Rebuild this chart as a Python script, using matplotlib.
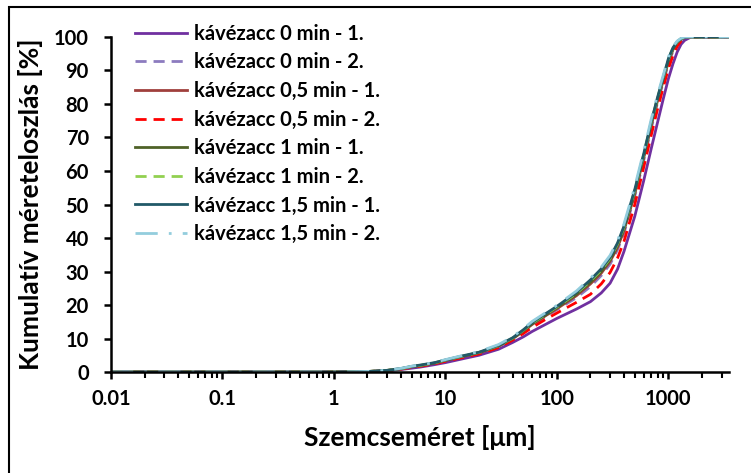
import matplotlib.pyplot as plt
from matplotlib.patches import Rectangle
from matplotlib.ticker import LogLocator, FixedLocator, NullFormatter

plt.rcParams['font.family'] = ['Lato', 'DejaVu Sans']
plt.rcParams['font.weight'] = 'bold'

# particle size grid [um]
size = [0.01, 0.1, 1, 1.5, 2, 3, 4, 5, 6, 8, 10, 15, 20, 30, 40, 50, 60, 80, 100, 150,
        200, 250, 300, 350, 400, 500, 600, 700, 800, 900, 1000, 1100, 1200, 1300, 1400,
        1600, 2000, 3500]

# cumulative distribution [%]
k0_1 = [0, 0, 0, 0.03, 0.1, 0.35, 0.75, 1.15, 1.5, 2.2, 2.8, 4.1, 5.0, 6.8, 8.8, 10.5, 12.1, 14.3, 16.0, 18.8,
        21.0, 23.6, 26.5, 30.7, 36.0, 46.5, 57.0, 66.5, 74.5, 81.5, 87.5, 92.0, 95.5, 97.8, 99.0,
        100, 100, 100]
k0_2 = [0, 0, 0, 0.04, 0.13, 0.45, 0.92, 1.5, 1.85, 2.6, 3.35, 4.7, 5.6, 7.6, 9.8, 12.0, 14.0, 16.6, 18.6, 22.2,
        25.5, 28.8, 32.2, 36.5, 41.5, 52.5, 63.0, 72.5, 80.5, 86.5, 92.0, 95.8, 98.0, 99.2, 99.8,
        100, 100, 100]
k05_1 = [0, 0, 0, 0.04, 0.14, 0.46, 0.95, 1.55, 1.9, 2.65, 3.4, 4.8, 5.7, 7.7, 9.9, 12.2, 14.2, 16.9, 18.9, 22.8,
         26.3, 29.5, 33.0, 37.2, 42.2, 53.2, 63.8, 73.3, 81.0, 87.0, 92.6, 96.2, 98.2, 99.3, 99.8,
         100, 100, 100]
k05_2 = [0, 0, 0, 0.04, 0.12, 0.42, 0.88, 1.4, 1.75, 2.45, 3.2, 4.5, 5.4, 7.3, 9.5, 11.5, 13.3, 15.8, 17.6, 20.8,
         23.2, 26.3, 29.7, 34.0, 39.0, 50.0, 61.0, 70.5, 78.5, 85.0, 90.5, 94.5, 97.2, 98.8, 99.6,
         100, 100, 100]
k1_1 = [0, 0, 0, 0.05, 0.14, 0.48, 0.98, 1.6, 1.95, 2.7, 3.5, 4.85, 5.8, 7.8, 10.0, 12.3, 14.4, 17.1, 19.2, 23.2,
        26.8, 30.0, 33.5, 37.8, 42.8, 53.8, 64.4, 74.0, 81.5, 87.5, 93.0, 96.5, 98.4, 99.4, 99.9,
        100, 100, 100]
k1_2 = [0, 0, 0, 0.05, 0.15, 0.49, 1.0, 1.65, 2.0, 2.75, 3.55, 4.9, 5.85, 7.9, 10.1, 12.5, 14.6, 17.3, 19.4, 23.5,
        27.2, 30.4, 33.9, 38.2, 43.2, 54.2, 64.8, 74.3, 81.8, 87.8, 93.3, 96.7, 98.5, 99.5, 99.9,
        100, 100, 100]
k15_1 = [0, 0, 0, 0.05, 0.15, 0.5, 1.05, 1.7, 2.1, 2.8, 3.6, 5.0, 5.9, 8.0, 10.2, 12.6, 14.8, 17.5, 19.6, 23.8,
         27.5, 30.8, 34.2, 38.5, 43.5, 54.5, 65.0, 74.5, 82.0, 88.0, 93.5, 96.8, 98.6, 99.5, 99.9,
         100, 100, 100]
k15_2 = [0, 0, 0, 0.06, 0.17, 0.55, 1.1, 1.75, 2.15, 2.85, 3.7, 5.1, 6.1, 8.2, 10.5, 12.9, 15.1, 17.8, 19.9, 24.2,
         28.0, 31.3, 34.8, 39.2, 44.2, 55.3, 65.8, 75.3, 82.7, 88.6, 94.0, 97.1, 98.8, 99.6, 100,
         100, 100, 100]

labels = ['kávézacc 0 min - 1.', 'kávézacc 0 min - 2.',
          'kávézacc 0,5 min - 1.', 'kávézacc 0,5 min - 2.',
          'kávézacc 1 min - 1.', 'kávézacc 1 min - 2.',
          'kávézacc 1,5 min - 1.', 'kávézacc 1,5 min - 2.']
series = [k0_1, k0_2, k05_1, k05_2, k1_1, k1_2, k15_1, k15_2]
colors = ['#7030A0', '#8C7BBF', '#A0403C', '#FF0000',
          '#4F6228', '#92D050', '#215968', '#93CDDD']
styles = ['-', (0, (4, 2.5)), '-', (0, (4, 2.5)),
          '-', (0, (4, 2.5)), '-', (0, (8, 4, 1, 4))]

fig = plt.figure(figsize=(7.51, 4.73), dpi=100)
ax = fig.add_axes([0.1478, 0.2135, 0.8229, 0.7083])

for vals, lab, col, ls in zip(series, labels, colors, styles):
    ax.plot(size, vals, color=col, linestyle=ls, linewidth=2.0, label=lab)

ax.set_xscale('log')
ax.set_xlim(0.01, 3500)
ax.set_ylim(0, 100)
ax.xaxis.set_major_locator(FixedLocator([0.01, 0.1, 1, 10, 100, 1000]))
ax.xaxis.set_minor_locator(LogLocator(base=10, subs=range(2, 10)))
ax.xaxis.set_minor_formatter(NullFormatter())
ax.set_xticklabels(['0.01', '0.1', '1', '10', '100', '1000'])
ax.set_yticks(range(0, 101, 10))

for side in ['top', 'right']:
    ax.spines[side].set_visible(False)
for side in ['left', 'bottom']:
    ax.spines[side].set_linewidth(1.8)
ax.tick_params(axis='both', which='major', length=5, width=1.8, labelsize=14.5)
ax.tick_params(axis='x', which='major', pad=7)
ax.tick_params(axis='y', which='major', pad=11)
ax.tick_params(axis='x', which='minor', length=4, width=1.5)

ax.set_xlabel('Szemcseméret [μm]', fontsize=19, fontweight='bold', va='center')
ax.set_ylabel('Kumulatív méreteloszlás [%]', fontsize=19, fontweight='bold', va='center')
ax.xaxis.set_label_coords(0.5, -0.194)
ax.yaxis.set_label_coords(-0.131, 0.5)

ax.legend(loc='upper left', bbox_to_anchor=(0.039, 1.04), frameon=False,
          borderpad=0, borderaxespad=0, fontsize=14.5, handlelength=2.6,
          handletextpad=0.3, labelspacing=0.43)

# outer frame of the chart area
fig.patches.append(Rectangle((9 / 751, -0.1), 1.2, 1.1 - 7 / 473,
                             transform=fig.transFigure, fill=False,
                             edgecolor='black', linewidth=1.5))

fig.savefig('out.png', dpi=100)
